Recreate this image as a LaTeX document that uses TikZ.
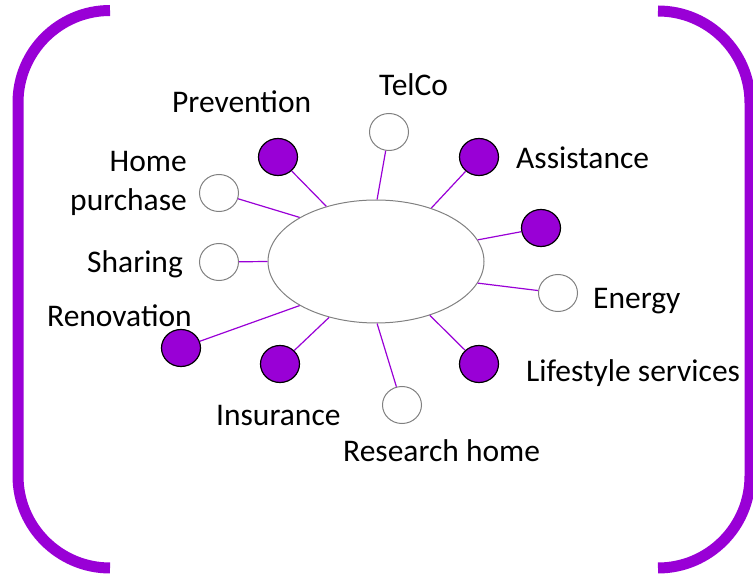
\documentclass[tikz,border=0pt]{standalone}
\usepackage{fontspec}
\setmainfont{Carlito}
\usepackage{tikz}
\usetikzlibrary{shapes, shapes.geometric}
\definecolor{violetfill}{RGB}{153,0,214}
\definecolor{hubgray}{RGB}{128,128,128}

\tikzset{
    bracket/.style = {draw = violetfill, line width = 11pt, rounded corners = 92pt},
    hubshape/.style = {ellipse, draw = hubgray, line width = 1pt, minimum width = 216pt, minimum height = 123pt, inner sep = 0pt},
    emptydot/.style = {ellipse, draw = hubgray, line width = 1pt, fill = white, minimum width = 39pt, minimum height = 37pt, inner sep = 0pt},
    fulldot/.style = {ellipse, draw = black, line width = 1.2pt, fill = violetfill, minimum width = 39pt, minimum height = 37pt, inner sep = 0pt},
    link/.style = {draw = violetfill, line width = 1.2pt},
    tag/.style = {inner sep = 0pt, font = \fontsize{31.5}{39}\selectfont}
}

\begin{document}
\begin{tikzpicture}[x = 1pt, y = -1pt]
        \useasboundingbox (0,0) rectangle (753,577);

        % brackets
        \draw [bracket] (110,10.5) -- (18,10.5) -- (18,568) -- (110,568);
        \draw [bracket] (658,11) -- (750,11) -- (750,568) -- (658,568);

        \node (hub) [hubshape] at (376,261.5) {};

        \node (prevention) [fulldot] at (278,157) {};
        \node (telco) [emptydot] at (389,132) {};
        \node (assist) [fulldot] at (479,157) {};
        \node (extra) [fulldot] at (541,228) {};
        \node (energy) [emptydot] at (558,293) {};
        \node (lifestyle) [fulldot] at (479,364) {};
        \node (research) [emptydot] at (402,405) {};
        \node (insurance) [fulldot] at (280,364) {};
        \node (renovation) [fulldot] at (181,348) {};
        \node (sharing) [emptydot] at (219,262) {};
        \node (purchase) [emptydot] at (219,193) {};

        \foreach \n/\a in {prevention/132, telco/89, assist/44, extra/12, energy/-12, lifestyle/-45, research/-89, insurance/-130, renovation/-150, sharing/180, purchase/150}
        {
            \draw [link] (\n) -- (hub.\a);
        }

        % labels
        \node (lprevention) [tag, anchor = base west] at (172,113) {Prevention};
        \node (ltelco) [tag, anchor = base west] at (379,96) {TelCo};
        \node (lassist) [tag, anchor = base west] at (516,169) {Assistance};
        \node (lpurchase) [tag, anchor = base east, align = right] at (187,211) {Home\\purchase};
        \node (lsharing) [tag, anchor = base west] at (87,273) {Sharing};
        \node (lrenovation) [tag, anchor = base west] at (47,327) {Renovation};
        \node (lenergy) [tag, anchor = base west] at (593,309) {Energy};
        \node (llifestyle) [tag, anchor = base west] at (526,382) {Lifestyle services};
        \node (linsurance) [tag, anchor = base west] at (216,426) {Insurance};
        \node (lresearch) [tag, anchor = base west] at (343,461) {Research home};
    \end{tikzpicture}
\end{document}
